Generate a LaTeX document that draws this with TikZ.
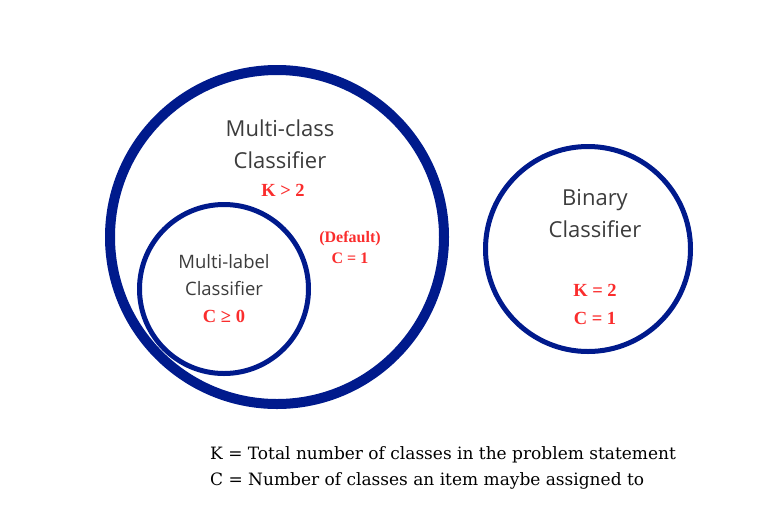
\documentclass[tikz,border=0pt]{standalone}
\usepackage{fontspec}
\setmainfont{DejaVu Serif}
\newfontfamily\labelfont{Open Sans}
\newfontfamily\condfont{Liberation Serif}
\usetikzlibrary{positioning}
\definecolor{ringblue}{RGB}{0,26,140}
\definecolor{notered}{RGB}{250,45,45}
\definecolor{labelgray}{RGB}{60,60,60}
\tikzset{
  ring/.style={shape=circle,draw=ringblue,inner sep=0pt},
  title/.style={font=\labelfont\fontsize{22}{32}\selectfont,text=labelgray,align=center},
  cond/.style={font=\condfont\bfseries\fontsize{18.5}{28}\selectfont,text=notered,align=center},
  legend/.style={font=\fontsize{17}{19}\selectfont,right,inner sep=0pt}
}

\begin{document}
\begin{tikzpicture}[x=1pt,y=-1pt]
\useasboundingbox (0,0) rectangle (776,523);

\node[ring,line width=10pt,minimum size=334pt] (M) at (277,237) {};
\node[ring,line width=5pt,minimum size=169pt] (L) at (224,289) {};
\node[ring,line width=5pt,minimum size=205pt] (B) at (588,249) {};

\node[title] (Mt) at (280,144) {Multi-class\\Classifier};
\node[cond] (Mk) at (283,190) {K > 2};
\node[cond,font=\condfont\bfseries\fontsize{16}{21}\selectfont] (Md) at (350,247) {(Default)\\C = 1};

\node[title,font=\labelfont\fontsize{18.5}{27}\selectfont] (Lt) at (224,275) {Multi-label\\Classifier};
\node[cond] (Lc) at (224,316) {C ≥ 0};

\node[title] (Bt) at (595,214) {Binary\\Classifier};
\node[cond] (Bc) at (595,304) {K = 2\\C = 1};

\node[legend] (K) at (210,455) {K = Total number of classes in the problem statement};
\node[legend] (C) at (210,481) {C = Number of classes an item maybe assigned to};
\end{tikzpicture}
\end{document}
